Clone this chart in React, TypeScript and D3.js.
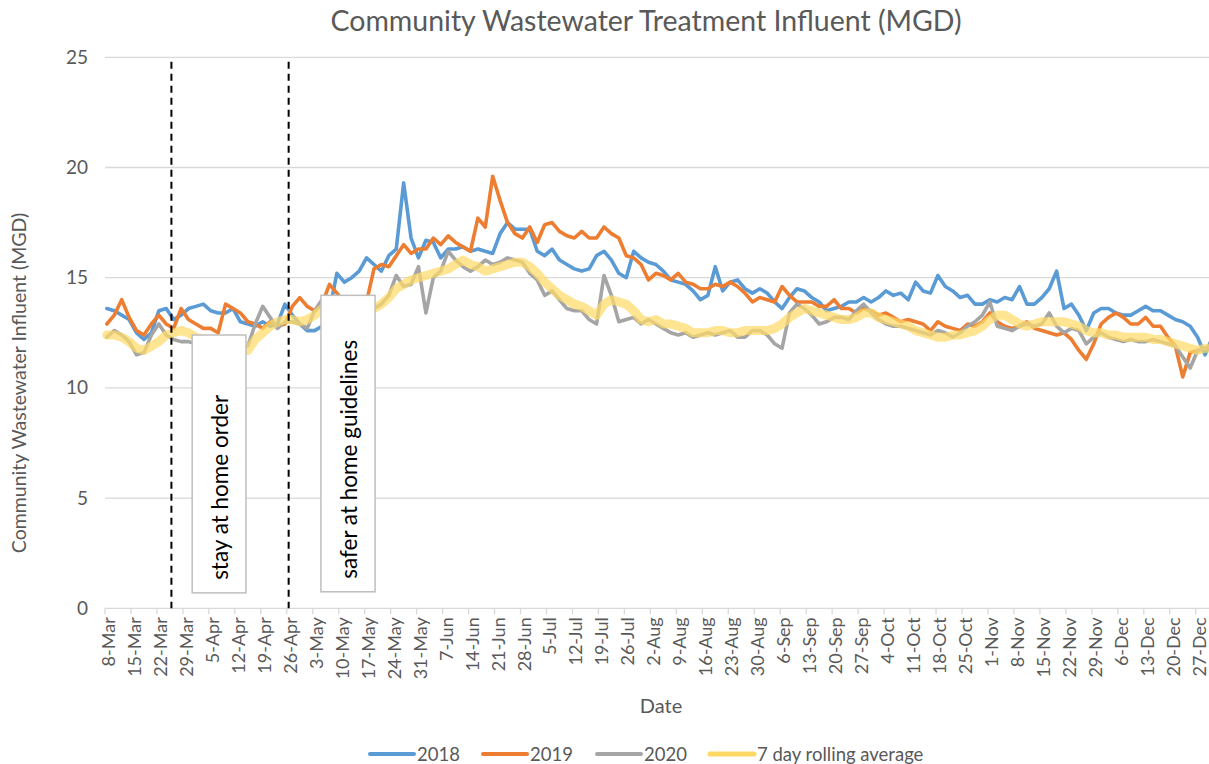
import React from 'react';
import * as d3 from 'd3';

// X tick labels, one per week starting 8-Mar
const tickLabels = ['8-Mar','15-Mar','22-Mar','29-Mar','5-Apr','12-Apr','19-Apr','26-Apr','3-May','10-May','17-May','24-May','31-May','7-Jun','14-Jun','21-Jun','28-Jun','5-Jul','12-Jul','19-Jul','26-Jul','2-Aug','9-Aug','16-Aug','23-Aug','30-Aug','6-Sep','13-Sep','20-Sep','27-Sep','4-Oct','11-Oct','18-Oct','25-Oct','1-Nov','8-Nov','15-Nov','22-Nov','29-Nov','6-Dec','13-Dec','20-Dec','27-Dec'];
const yTicks = [0, 5, 10, 15, 20, 25];

// Values read every 2 days from 8-Mar
const series2018 = [
  13.6,13.5,13.3,13.1,12.5,12.2,12.5,13.5,13.6,13.1,
  13.3,13.6,13.7,13.8,13.5,13.4,13.4,13.6,13.0,12.9,
  12.8,13.0,12.8,12.9,13.8,13.3,12.9,12.6,12.6,12.8,
  13.5,15.2,14.8,15.0,15.3,15.9,15.6,15.3,16.0,16.3,
  19.3,16.8,15.9,16.7,16.6,15.9,16.3,16.3,16.4,16.2,
  16.3,16.2,16.1,17.0,17.5,17.2,17.2,17.2,16.2,16.0,
  16.3,15.8,15.6,15.4,15.3,15.4,16.0,16.2,15.8,15.2,
  15.0,16.2,15.9,15.7,15.6,15.3,14.9,14.8,14.7,14.4,
  14.0,14.2,15.5,14.4,14.8,14.9,14.5,14.3,14.5,14.3,
  13.9,13.6,14.1,14.5,14.4,14.1,13.9,13.5,13.6,13.7,
  13.9,13.9,14.1,13.9,14.1,14.4,14.2,14.3,14.0,14.8,
  14.4,14.3,15.1,14.6,14.4,14.1,14.2,13.8,13.8,14.0,
  13.9,14.1,14.0,14.6,13.8,13.8,14.1,14.5,15.3,13.6,
  13.8,13.3,12.6,13.4,13.6,13.6,13.4,13.3,13.3,13.5,
  13.7,13.5,13.5,13.3,13.1,13.0,12.8,12.3,11.5,12.3,
];
const series2019 = [
  12.9,13.3,14.0,13.2,12.6,12.4,12.9,13.3,12.9,12.7,
  13.6,13.1,12.9,12.7,12.7,12.5,13.8,13.6,13.4,13.0,
  12.9,12.7,13.0,12.8,12.9,13.7,14.1,13.7,13.5,13.8,
  14.7,14.3,13.9,13.5,13.7,13.9,15.4,15.6,15.5,16.0,
  16.5,16.1,16.3,16.3,16.8,16.5,16.9,16.6,16.4,16.2,
  17.7,17.3,19.6,18.5,17.5,17.0,16.8,17.3,16.6,17.4,
  17.5,17.1,16.9,16.8,17.1,16.8,16.8,17.3,17.0,16.8,
  16.0,15.9,15.6,14.9,15.2,15.1,14.9,15.2,14.8,14.7,
  14.5,14.5,14.7,14.6,14.8,14.6,14.3,13.9,14.1,14.0,
  13.9,14.6,14.2,13.9,13.9,13.9,13.7,13.7,14.0,13.6,
  13.6,13.4,13.6,13.5,13.3,13.4,13.2,13.0,13.1,13.0,
  12.9,12.6,13.0,12.8,12.7,12.6,12.9,12.8,13.0,13.4,
  13.0,12.8,12.7,12.8,13.0,12.7,12.6,12.5,12.4,12.5,
  12.2,11.7,11.3,12.0,12.9,13.2,13.4,13.2,12.9,12.9,
  13.2,12.8,12.8,12.3,11.9,10.5,11.6,11.7,11.8,11.8,
];
const series2020 = [
  12.3,12.6,12.4,12.1,11.5,11.6,12.4,12.9,12.4,12.2,
  12.1,12.1,12.0,11.9,11.9,12.0,12.0,11.8,11.9,11.9,
  12.9,13.7,13.2,12.7,13.0,13.0,12.9,12.7,13.5,14.0,
  13.9,13.9,13.8,13.7,13.6,13.6,13.6,13.8,14.2,15.1,
  14.6,14.7,15.5,13.4,15.0,15.3,16.2,15.8,15.5,15.3,
  15.5,15.8,15.6,15.7,15.9,15.8,15.7,15.2,14.9,14.2,
  14.4,14.0,13.6,13.5,13.5,13.1,12.9,15.1,14.2,13.0,
  13.1,13.2,12.9,13.1,12.9,12.7,12.5,12.4,12.5,12.3,
  12.4,12.5,12.4,12.5,12.6,12.3,12.3,12.6,12.6,12.4,
  12.0,11.8,13.4,13.8,13.6,13.3,12.9,13.0,13.2,13.2,
  13.1,13.5,13.8,13.4,13.1,12.9,12.8,12.8,12.7,12.6,
  12.5,12.4,12.6,12.5,12.3,12.5,12.8,13.0,13.3,13.9,
  12.8,12.7,12.6,12.8,12.9,12.8,12.9,13.4,12.8,12.5,
  12.7,12.6,12.0,12.3,12.5,12.3,12.2,12.1,12.2,12.1,
  12.1,12.2,12.1,12.0,11.9,11.4,10.9,11.7,11.8,11.9,
];
const rollingAvg = [
  12.4,12.4,12.3,12.1,11.8,11.7,11.9,12.1,12.4,12.5,
  12.6,12.5,12.3,12.2,12.1,12.0,11.9,11.8,11.7,11.7,
  12.2,12.5,12.8,13.0,13.1,13.1,13.0,13.1,13.3,13.6,
  13.6,13.6,13.6,13.6,13.6,13.6,13.6,13.8,14.1,14.5,
  14.7,14.9,15.0,15.1,15.2,15.3,15.4,15.6,15.8,15.6,
  15.5,15.3,15.4,15.5,15.6,15.7,15.7,15.5,15.2,14.8,
  14.5,14.2,14.0,13.8,13.7,13.5,13.3,13.8,14.0,13.9,
  13.8,13.5,13.1,13.0,13.1,12.9,12.9,12.8,12.7,12.5,
  12.5,12.5,12.6,12.6,12.5,12.5,12.6,12.6,12.6,12.6,
  12.7,12.9,13.2,13.4,13.6,13.5,13.4,13.3,13.2,13.1,
  13.1,13.2,13.4,13.4,13.2,13.1,13.0,12.9,12.8,12.6,
  12.5,12.4,12.3,12.3,12.4,12.4,12.5,12.6,12.8,13.1,
  13.3,13.3,13.1,12.9,12.8,12.9,13.0,13.0,13.0,13.0,
  12.9,12.8,12.6,12.5,12.5,12.4,12.4,12.3,12.3,12.3,
  12.3,12.2,12.2,12.1,12.0,11.9,11.8,11.7,11.8,11.8,
];
const dayStep = 2;

const seriesNames = ['2018', '2019', '2020', '7 day rolling average'];
const seriesColors = ['#5B9BD5', '#ED7D31', '#A5A5A5', '#FFD966'];

// annotation positions in data units (day offset from 8-Mar, MGD)
const eventDays = [17.4, 49];
const notes = [
  { text: 'stay at home order', d0: 23, d1: 37.5, v0: 0.7, v1: 12.4 },
  { text: 'safer at home guidelines', d0: 57.7, d1: 72.3, v0: 0.75, v1: 14.2 },
];

const W = 1209, H = 764;
const plotLeft = 105, plotRight = 1209, plotTop = 57.3, plotBottom = 608.3;
const pxPerDay = 3.71;
const FONT = 'Lato, "Open Sans", sans-serif';
const TXT = '#595959';

export default function App() {
  const x = d3.scaleLinear().domain([-0.5, 297.5]).range([plotLeft, plotLeft + 298 * pxPerDay]);
  const y = d3.scaleLinear().domain([0, 25]).range([plotBottom, plotTop]);
  const mk = (vals: number[]) =>
    d3.line<number>().x((_, i) => x(i * dayStep)).y((v) => y(v))(vals) || '';
  const data = [series2018, series2019, series2020, rollingAvg];

  const legendX = [370, 483, 597, 710];

  return (
    <div style={{ position: 'absolute', left: 0, top: 0 }}>
      <svg width={W} height={H} style={{ display: 'block', background: '#fff' }} fontFamily={FONT}>
        <text x={646} y={31} textAnchor="middle" fontSize={28.5} fill={TXT}>
          Community Wastewater Treatment Influent (MGD)
        </text>
        {yTicks.map((t) => (
          <g key={t}>
            <line x1={plotLeft} x2={plotRight} y1={y(t)} y2={y(t)} stroke="#D9D9D9" strokeWidth={1.3} />
            <text x={88} y={y(t) + 6.5} textAnchor="end" fontSize={19} fill={TXT}>{t}</text>
          </g>
        ))}
        {tickLabels.map((lab, i) => {
          const tx = x(i * 7 - 0.5);
          return (
            <g key={lab}>
              <line x1={tx} x2={tx} y1={plotBottom} y2={plotBottom + 6} stroke="#D9D9D9" strokeWidth={1.3} />
              <text transform={`translate(${tx + 10},${plotBottom + 9}) rotate(-90)`} textAnchor="end" fontSize={18} fill={TXT}>{lab}</text>
            </g>
          );
        })}
        <text transform={`translate(26,383) rotate(-90)`} textAnchor="middle" fontSize={19.5} fill={TXT}>
          Community Wastewater Influent (MGD)
        </text>
        <text x={661} y={713} textAnchor="middle" fontSize={20} fill={TXT}>Date</text>

        {data.map((vals, k) => (
          <path key={k} d={mk(vals)} fill="none" stroke={seriesColors[k]}
            strokeWidth={k === 3 ? 9 : 3.6} strokeOpacity={k === 3 ? 0.72 : 1}
            strokeLinejoin="round" strokeLinecap="round" />
        ))}

        {eventDays.map((d) => (
          <line key={d} x1={x(d)} x2={x(d)} y1={y(24.8)} y2={y(0)} stroke="#000" strokeWidth={2} strokeDasharray="7,5" />
        ))}
        {notes.map((n) => (
          <g key={n.text}>
            <rect x={x(n.d0)} y={y(n.v1)} width={x(n.d1) - x(n.d0)} height={y(n.v0) - y(n.v1)} fill="#fff" stroke="#BFBFBF" strokeWidth={1.5} />
            <text transform={`translate(${(x(n.d0) + x(n.d1)) / 2},${y(n.v0) - 13}) rotate(-90)`} dominantBaseline="central" fontSize={22.5} fill="#000">{n.text}</text>
          </g>
        ))}

        {seriesNames.map((nm, k) => (
          <g key={nm}>
            <line x1={legendX[k]} x2={legendX[k] + 44} y1={754} y2={754} stroke={seriesColors[k]} strokeWidth={k === 3 ? 5 : 4} strokeLinecap="round" />
            <text x={legendX[k] + 47} y={760.5} fontSize={18.5} fill={TXT}>{nm}</text>
          </g>
        ))}
      </svg>
    </div>
  );
}
